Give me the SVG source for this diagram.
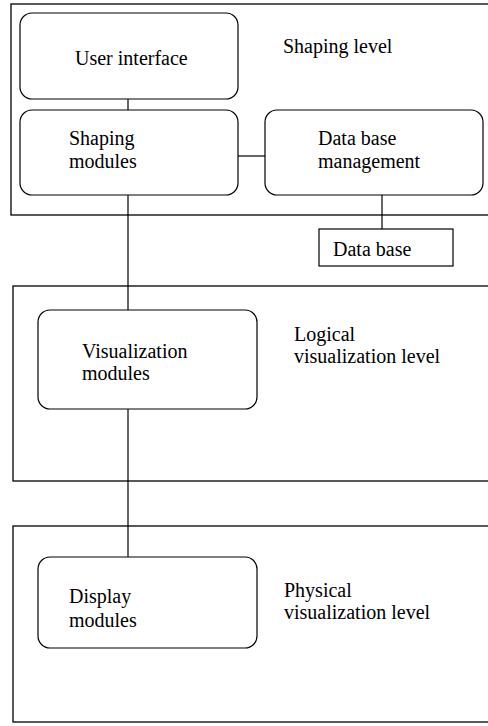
<svg xmlns="http://www.w3.org/2000/svg" width="488" height="726" viewBox="0 0 488 726">
<style>
.lvl{fill:none;stroke:#000;stroke-width:1.3}
.nd{fill:#fff;stroke:#000;stroke-width:1.2}
.cn{stroke:#000;stroke-width:1.2;fill:none}
.t{font-family:'Liberation Serif','Times New Roman','DejaVu Serif',serif;font-size:20px;fill:#000}
</style>
<rect width="488" height="726" fill="#fff"/>
<g id="shaping-level">
<rect class="lvl" x="11" y="4" width="490" height="211"/>
<text class="t" x="283" y="53">Shaping level</text>
</g>
<g id="logical-level">
<rect class="lvl" x="13" y="286" width="490" height="195"/>
<text class="t" x="294" y="341">Logical</text>
<text class="t" x="294" y="363">visualization level</text>
</g>
<g id="physical-level">
<rect class="lvl" x="13" y="526" width="490" height="196"/>
<text class="t" x="284" y="597">Physical</text>
<text class="t" x="284" y="619">visualization level</text>
</g>
<g id="connectors">
<line class="cn" x1="128" y1="99" x2="128" y2="110"/>
<line class="cn" x1="238" y1="156" x2="265" y2="156"/>
<line class="cn" x1="382" y1="195" x2="382" y2="229"/>
<line class="cn" x1="128" y1="195" x2="128" y2="310"/>
<line class="cn" x1="128" y1="409" x2="128" y2="557"/>
</g>
<g id="user-interface">
<rect class="nd" x="20" y="13" width="218" height="86" rx="12"/>
<text class="t" x="75" y="65">User interface</text>
</g>
<g id="shaping-modules">
<rect class="nd" x="20" y="110" width="218" height="85" rx="12"/>
<text class="t" x="69" y="145">Shaping</text>
<text class="t" x="69" y="168">modules</text>
</g>
<g id="db-management">
<rect class="nd" x="265" y="110" width="218" height="85" rx="12"/>
<text class="t" x="318" y="145">Data base</text>
<text class="t" x="318" y="168">management</text>
</g>
<g id="data-base">
<rect class="nd" x="319" y="229" width="134" height="37"/>
<text class="t" x="333" y="256">Data base</text>
</g>
<g id="visualization-modules">
<rect class="nd" x="38" y="310" width="219" height="99" rx="12"/>
<text class="t" x="82" y="358">Visualization</text>
<text class="t" x="82" y="380">modules</text>
</g>
<g id="display-modules">
<rect class="nd" x="38" y="557" width="219" height="91" rx="12"/>
<text class="t" x="69" y="603">Display</text>
<text class="t" x="69" y="627">modules</text>
</g>
</svg>
